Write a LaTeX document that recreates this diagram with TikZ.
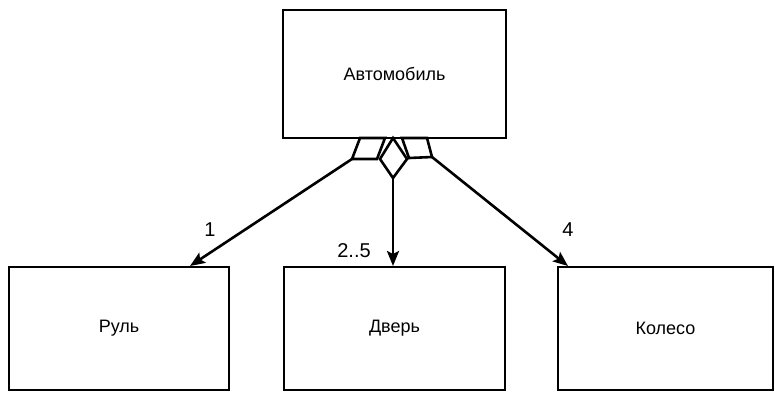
\documentclass[tikz,border=0pt]{standalone}
\usepackage{fontspec}
\setmainfont{Liberation Sans}
\usetikzlibrary{arrows.meta}
\begin{document}
\begin{tikzpicture}[x=1pt,y=-1pt,
  box/.style={draw,line width=2.6pt,rectangle,inner sep=0pt,font=\fontsize{18}{21}\selectfont},
  conn/.style={line width=2.6pt,-{Stealth[length=15pt,width=12pt,inset=3pt]}},
  agg/.style={draw,line width=2.6pt,fill=white,line join=miter},
  lbl/.style={font=\fontsize{20}{24}\selectfont}]
\useasboundingbox (0,0) rectangle (775,392);
\node[box,minimum width=223pt,minimum height=128pt] (auto) at (394.5,74) {Автомобиль};
\node[box,minimum width=220pt,minimum height=123pt] (rul) at (119,328.5) {Руль};
\node[box,minimum width=221pt,minimum height=123pt] (dver) at (394.5,328.5) {Дверь};
\node[box,minimum width=215pt,minimum height=123pt] (koleso) at (665.5,328.5) {Колесо};
% aggregation markers
\draw[agg] (360,138) -- (385,138) -- (377,159) -- (352,159) -- cycle;
\draw[agg] (393,138) -- (407,159) -- (393,178) -- (380,159) -- cycle;
\draw[agg] (402,138) -- (427,138) -- (432,157) -- (409,158) -- cycle;
\coordinate (s1) at (352,159);
\coordinate (s2) at (393,178);
\coordinate (s3) at (432,157);
\coordinate (t1) at (190,266);
\coordinate (t2) at (393,266);
\coordinate (t3) at (568,266);
\draw[conn] (s1) -- (t1);
\draw[conn] (s2) -- (t2);
\draw[conn] (s3) -- (t3);
\node[lbl] (m1) at (210,230) {1};
\node[lbl] (m2) at (354,251) {2..5};
\node[lbl] (m3) at (568,230) {4};
\end{tikzpicture}
\end{document}
